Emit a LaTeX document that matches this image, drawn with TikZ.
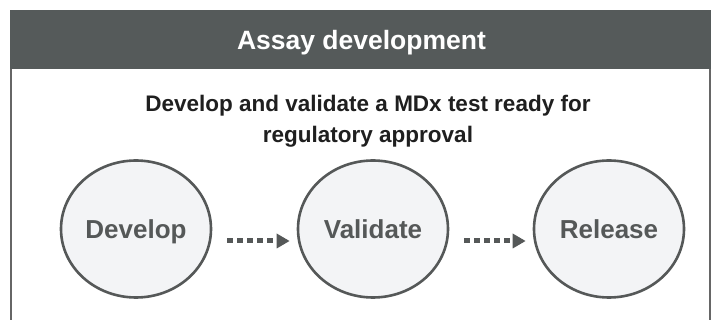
\documentclass[tikz,border=0pt]{standalone}
\usepackage{fontspec}
\setmainfont{Liberation Sans}
\usetikzlibrary{arrows.meta,shapes.geometric}
\definecolor{hdr}{HTML}{555A5A}
\definecolor{stk}{HTML}{555858}
\definecolor{cfill}{HTML}{F3F4F6}
\definecolor{frame}{HTML}{666666}
\begin{document}
\begin{tikzpicture}[x=1pt,y=-1pt,
  stage/.style={ellipse,draw=stk,line width=2.6pt,fill=cfill,minimum width=150pt,minimum height=137pt,inner sep=0pt,text height=18.6pt,text depth=0pt,font=\fontsize{26}{30}\selectfont\bfseries,text=stk},
  flow/.style={draw=stk,line width=5pt,dash pattern=on 6pt off 4pt,-{Triangle[length=13pt,width=14pt,fill=stk]},shorten <=15pt,shorten >=7pt}]
\useasboundingbox (0,0) rectangle (713,320);
\fill[white] (0,0) rectangle (713,320);
\draw[frame,line width=1.2pt] (11,69) -- (11,321) (710,69) -- (710,321);
\fill[hdr] (10.4,10) rectangle (710.6,69);
\node[font=\fontsize{26.5}{30}\selectfont\bfseries,text=white,anchor=base] (title) at (361.5,50) {Assay development};
\node[font=\fontsize{22.5}{31}\selectfont\bfseries,align=center,text=black!88,anchor=base] (sub) at (368,143) {Develop and validate a MDx test ready for\\regulatory approval};
\node[stage] (dev) at (136,229) {Develop};
\node[stage] (val) at (373,229) {Validate};
\node[stage] (rel) at (609,229) {Release};
\draw[flow] ([yshift=-12pt]dev.east) -- ([yshift=-12pt]val.west);
\draw[flow] ([yshift=-12pt]val.east) -- ([yshift=-12pt]rel.west);
\end{tikzpicture}
\end{document}
